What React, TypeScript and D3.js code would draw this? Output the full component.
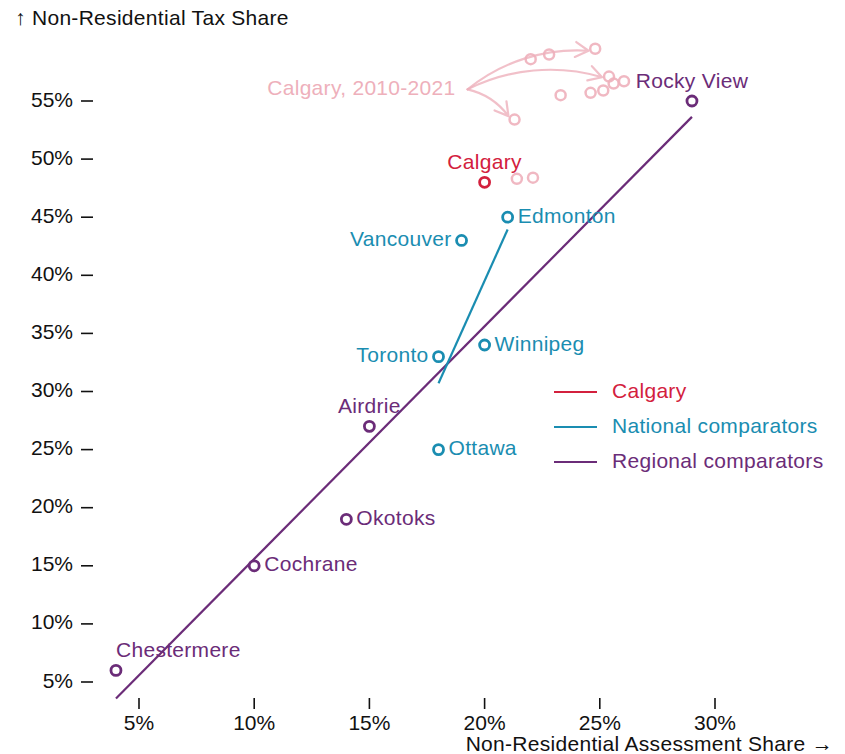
import React from "react";
import * as d3 from "d3";

const regionalNames = ["Rocky View", "Airdrie", "Okotoks", "Cochrane", "Chestermere"];
const regionalX = [29, 15, 14, 10, 4];
const regionalY = [55, 27, 19, 15, 6];

const nationalNames = ["Edmonton", "Vancouver", "Toronto", "Winnipeg", "Ottawa"];
const nationalX = [21, 19, 18, 20, 18];
const nationalY = [45, 43, 33, 34, 25];

const calgaryX = [20];
const calgaryY = [48];

const historyX = [24.8, 22.8, 22.0, 25.4, 26.05, 25.6, 25.15, 24.6, 23.3, 21.3, 21.4, 22.1];
const historyY = [59.5, 59.0, 58.6, 57.1, 56.7, 56.5, 55.9, 55.7, 55.5, 53.4, 48.3, 48.4];
const arrowTargets = [0, 3, 9];
const historyLabel = "Calgary, 2010-2021";
const historyAnchor = [19, 56];

const xTicks = [5, 10, 15, 20, 25, 30];
const yTicks = [5, 10, 15, 20, 25, 30, 35, 40, 45, 50, 55];

const legendItems = ["Calgary", "National comparators", "Regional comparators"];

const RED = "#d3203d";
const BLUE = "#1a8db1";
const PURPLE = "#6b2c78";
const PINK = "#eeb0bb";

// label placement: "above", "right", "left"
const regionalPos = ["above", "above", "right", "right", "aboveStart"];
const nationalPos = ["right", "left", "left", "right", "right"];

function regression(xs: number[], ys: number[]) {
  const mx = d3.mean(xs)!;
  const my = d3.mean(ys)!;
  let sxy = 0, sxx = 0;
  xs.forEach((x, i) => {
    sxy += (x - mx) * (ys[i] - my);
    sxx += (x - mx) * (x - mx);
  });
  const slope = sxy / sxx;
  const intercept = my - slope * mx;
  const [x0, x1] = d3.extent(xs) as [number, number];
  return [
    [x0, intercept + slope * x0],
    [x1, intercept + slope * x1],
  ];
}

export default function App() {
  const W = 845, H = 754;
  const x = d3.scaleLinear().domain([5, 30]).range([139, 715]);
  const y = d3.scaleLinear().domain([5, 55]).range([682, 101]);
  const font = "Liberation Sans, Arial, sans-serif";
  const fs = 21;
  const ls = 0.3;

  const line = d3.line<number[]>().x((d) => x(d[0])).y((d) => y(d[1]));
  const regReg = regression(regionalX, regionalY);
  const natReg = regression(nationalX, nationalY);

  const label = (name: string, px: number, py: number, pos: string, color: string, key: string) => {
    let tx = px, ty = py, anchor: any = "start", baseline: any = "middle";
    if (pos === "right") { tx = px + 10; }
    else if (pos === "left") { tx = px - 10; anchor = "end"; }
    else if (pos === "above") { ty = py - 13; anchor = "middle"; baseline = "auto"; }
    else if (pos === "aboveStart") { tx = px; ty = py - 13; anchor = "start"; baseline = "auto"; }
    return (
      <text key={key} x={tx} y={ty} textAnchor={anchor} dominantBaseline={baseline} fill={color} fontSize={fs} fontFamily={font} letterSpacing={ls}>
        {name}
      </text>
    );
  };

  const sx = x(historyAnchor[0]);
  const sy = y(historyAnchor[1]);
  const arrow = (tx: number, ty: number) => {
    const bend = (22.5 * Math.PI) / 180;
    let dx = tx - sx, dy = ty - sy;
    const L0 = Math.hypot(dx, dy);
    const inset = 7;
    const ex = tx - (dx / L0) * inset;
    const ey = ty - (dy / L0) * inset;
    dx = ex - sx; dy = ey - sy;
    const L = Math.hypot(dx, dy);
    const lineAngle = Math.atan2(dy, dx);
    const r = L / (2 * Math.sin(bend));
    const endAngle = lineAngle + bend;
    const head = 15;
    const wing = Math.PI / 6;
    const w1x = ex - head * Math.cos(endAngle + wing);
    const w1y = ey - head * Math.sin(endAngle + wing);
    const w2x = ex - head * Math.cos(endAngle - wing);
    const w2y = ey - head * Math.sin(endAngle - wing);
    return `M${sx + 6},${sy}A${r},${r} 0 0 1 ${ex},${ey}M${w1x},${w1y}L${ex},${ey}L${w2x},${w2y}`;
  };

  return (
    <svg width={W} height={H} style={{ position: "absolute", left: 0, top: 0, background: "white" }}>
      {/* Y axis label */}
      <text x={15} y={25} fontSize={fs} fontFamily={font} fill="#111" letterSpacing={ls}>↑ Non-Residential Tax Share</text>
      {/* Y ticks */}
      {yTicks.map((t) => (
        <g key={"y" + t}>
          <line x1={81} x2={93} y1={y(t)} y2={y(t)} stroke="#111" strokeWidth={1.6} />
          <text x={73} y={y(t)} textAnchor="end" dominantBaseline="middle" fontSize={fs} fontFamily={font} fill="#111">{t}%</text>
        </g>
      ))}
      {/* X ticks */}
      {xTicks.map((t) => (
        <g key={"x" + t}>
          <line x1={x(t)} x2={x(t)} y1={698} y2={709} stroke="#111" strokeWidth={1.6} />
          <text x={x(t)} y={730} textAnchor="middle" fontSize={fs} fontFamily={font} fill="#111">{t}%</text>
        </g>
      ))}
      <text x={833} y={751} textAnchor="end" fontSize={fs} fontFamily={font} fill="#111" letterSpacing={ls}>Non-Residential Assessment Share →</text>

      {/* regression lines */}
      <path d={line(regReg as any) || ""} stroke={PURPLE} strokeWidth={2.2} fill="none" />
      <path d={line(natReg as any) || ""} stroke={BLUE} strokeWidth={2.2} fill="none" />

      {/* history */}
      {historyX.map((hx, i) => (
        <circle key={"h" + i} cx={x(hx)} cy={y(historyY[i])} r={5} fill="none" stroke={PINK} strokeWidth={2.5} strokeOpacity={0.9} />
      ))}
      {arrowTargets.map((k) => (
        <path key={"a" + k} d={arrow(x(historyX[k]), y(historyY[k]))} fill="none" stroke={PINK} strokeWidth={2.2} strokeOpacity={0.8} strokeLinecap="round" strokeLinejoin="round" />
      ))}
      <text x={sx - 6} y={sy} textAnchor="end" dominantBaseline="middle" fill={PINK} fontSize={fs} fontFamily={font} letterSpacing={ls}>{historyLabel}</text>

      {/* regional */}
      {regionalX.map((rx, i) => (
        <g key={"r" + i}>
          <circle cx={x(rx)} cy={y(regionalY[i])} r={5} fill="white" stroke={PURPLE} strokeWidth={2.8} />
          {label(regionalNames[i], x(rx), y(regionalY[i]), regionalPos[i], PURPLE, "rl" + i)}
        </g>
      ))}
      {/* national */}
      {nationalX.map((nx, i) => (
        <g key={"n" + i}>
          <circle cx={x(nx)} cy={y(nationalY[i])} r={5} fill="white" stroke={BLUE} strokeWidth={2.8} />
          {label(nationalNames[i], x(nx), y(nationalY[i]), nationalPos[i], BLUE, "nl" + i)}
        </g>
      ))}
      {/* calgary */}
      {calgaryX.map((cx, i) => (
        <g key={"c" + i}>
          <circle cx={x(cx)} cy={y(calgaryY[i])} r={5} fill="white" stroke={RED} strokeWidth={2.8} />
          {label("Calgary", x(cx), y(calgaryY[i]), "above", RED, "cl" + i)}
        </g>
      ))}

      {/* legend */}
      {legendItems.map((name, i) => {
        const c = [RED, BLUE, PURPLE][i];
        const ly = 392 + i * 35;
        return (
          <g key={"lg" + i}>
            <line x1={554} x2={597} y1={ly} y2={ly} stroke={c} strokeWidth={2} />
            <text x={612} y={ly} dominantBaseline="middle" fill={c} fontSize={fs} fontFamily={font} letterSpacing={ls}>{name}</text>
          </g>
        );
      })}
    </svg>
  );
}
